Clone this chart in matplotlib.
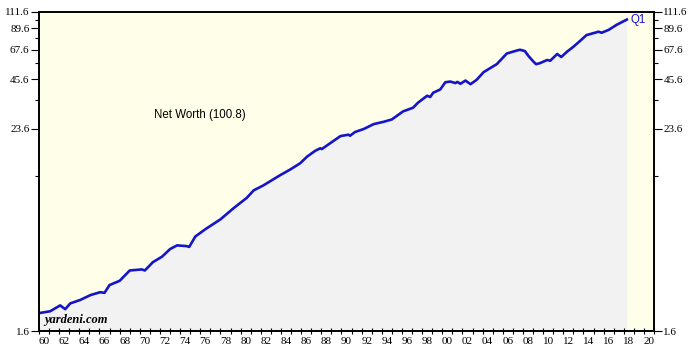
import numpy as np
import matplotlib
matplotlib.use("Agg")
import matplotlib.pyplot as plt
from matplotlib.ticker import FixedLocator, FixedFormatter, NullFormatter

# Net worth (decimal year, value)
years = [1960.0, 1961.1, 1962.1, 1962.6, 1963.1, 1964.1, 1965.1, 1966.05, 1966.5,
         1967.0, 1968.0, 1969.0, 1970.2, 1970.5, 1971.3, 1972.2, 1973.0, 1973.7,
         1974.65, 1974.9, 1975.5, 1976.5, 1978.0, 1979.3, 1980.6, 1981.3, 1982.25,
         1983.1, 1983.9, 1984.9, 1985.9, 1986.6, 1987.4, 1987.9, 1988.05, 1988.9,
         1989.9, 1990.7, 1990.85, 1991.35, 1992.2, 1993.2, 1994.2, 1995.0, 1996.1,
         1997.1, 1997.6, 1998.5, 1998.8, 1999.1, 1999.8, 2000.3, 2000.8, 2001.3,
         2001.5, 2001.8, 2002.3, 2002.8, 2003.4, 2004.1, 2004.6, 2005.4, 2006.4,
         2007.2, 2007.7, 2008.2, 2008.5, 2009.0, 2009.3, 2009.7, 2010.4, 2010.7,
         2011.4, 2011.8, 2012.35, 2013.0, 2013.7, 2014.3, 2015.5, 2015.8, 2016.5,
         2017.3, 2018.3]
net_worth = [2.03, 2.08, 2.25, 2.14, 2.31, 2.42, 2.58, 2.68, 2.66,
             2.95, 3.12, 3.58, 3.63, 3.58, 4.0, 4.3, 4.76, 5.0,
             4.95, 4.9, 5.62, 6.2, 7.07, 8.2, 9.4, 10.4, 11.1,
             11.9, 12.7, 13.7, 14.9, 16.3, 17.6, 18.2, 18.0, 19.5,
             21.4, 21.8, 21.5, 22.6, 23.5, 25.1, 25.9, 26.7, 29.7,
             31.2, 33.4, 36.6, 36.0, 38.1, 39.8, 43.8, 44.2, 43.3,
             44.0, 42.9, 44.8, 42.7, 45.2, 50.1, 52.2, 55.7, 64.2,
             66.3, 67.5, 66.3, 62.6, 58.0, 55.7, 56.5, 58.9, 58.3,
             63.8, 61.3, 65.6, 70.2, 76.2, 82.0, 85.8, 84.6, 87.9,
             94.1, 100.8]

y_major = [1.6, 23.6, 45.6, 67.6, 89.6, 111.6]
y_minor = [12.6, 34.6, 56.6, 78.6, 100.6]
x_labels = list(range(1960, 2021, 2))

fig = plt.figure(figsize=(7, 3.62), dpi=100)
ax = fig.add_axes([0.0557, 0.0856, 0.8786, 0.8814])
ax.set_facecolor('#fffee8')

ax.fill_between(years, net_worth, 1.6, color='#f2f2f2', lw=0)
ax.plot(years, net_worth, color='#1414c8', lw=1.9)

ax.set_yscale('log')
ax.set_ylim(1.6, 111.6)
ax.set_xlim(1960, 2021)

ax.yaxis.set_major_locator(FixedLocator(y_major))
ax.yaxis.set_major_formatter(FixedFormatter([f'{v:.1f}' for v in y_major]))
ax.yaxis.set_minor_locator(FixedLocator(y_minor))
ax.yaxis.set_minor_formatter(NullFormatter())
ax.tick_params(axis='y', which='major', direction='out', length=5.8, width=0.8,
               left=True, right=True, labelleft=True, labelright=True,
               labelsize=8, pad=1)
ax.tick_params(axis='y', which='minor', direction='out', length=2.9, width=0.8,
               left=True, right=True)

# year boundary ticks, labels centred in the year
ax.xaxis.set_major_locator(FixedLocator(list(range(1960, 2022))))
ax.xaxis.set_major_formatter(NullFormatter())
ax.xaxis.set_minor_locator(FixedLocator([y + 0.5 for y in x_labels]))
ax.xaxis.set_minor_formatter(FixedFormatter([f'{y % 100:02d}' for y in x_labels]))
ax.tick_params(axis='x', which='major', direction='inout', length=4, width=0.8)
ax.tick_params(axis='x', which='minor', length=0, labelsize=8, pad=4)

for lab in ax.get_xticklabels(minor=True) + ax.get_yticklabels():
    lab.set_family('Liberation Serif')
for lab in ax.yaxis.get_ticklabels(which='major'):
    lab.set_family('Liberation Serif')

for s in ax.spines.values():
    s.set_linewidth(1.4)

ax.text(0.262, 0.677, 'Net Worth (100.8)', transform=ax.transAxes,
        fontsize=8.3, family='Liberation Sans', ha='center', va='center')
ax.text(years[-1] + 0.4, 100, 'Q1', color='#1414c8', fontsize=8.3,
        family='Liberation Sans', ha='left', va='center')
ax.text(0.008, 0.025, 'yardeni.com', transform=ax.transAxes, fontsize=9,
        family='Liberation Serif', fontweight='bold', fontstyle='italic')

fig.savefig('out.png', dpi=100)
